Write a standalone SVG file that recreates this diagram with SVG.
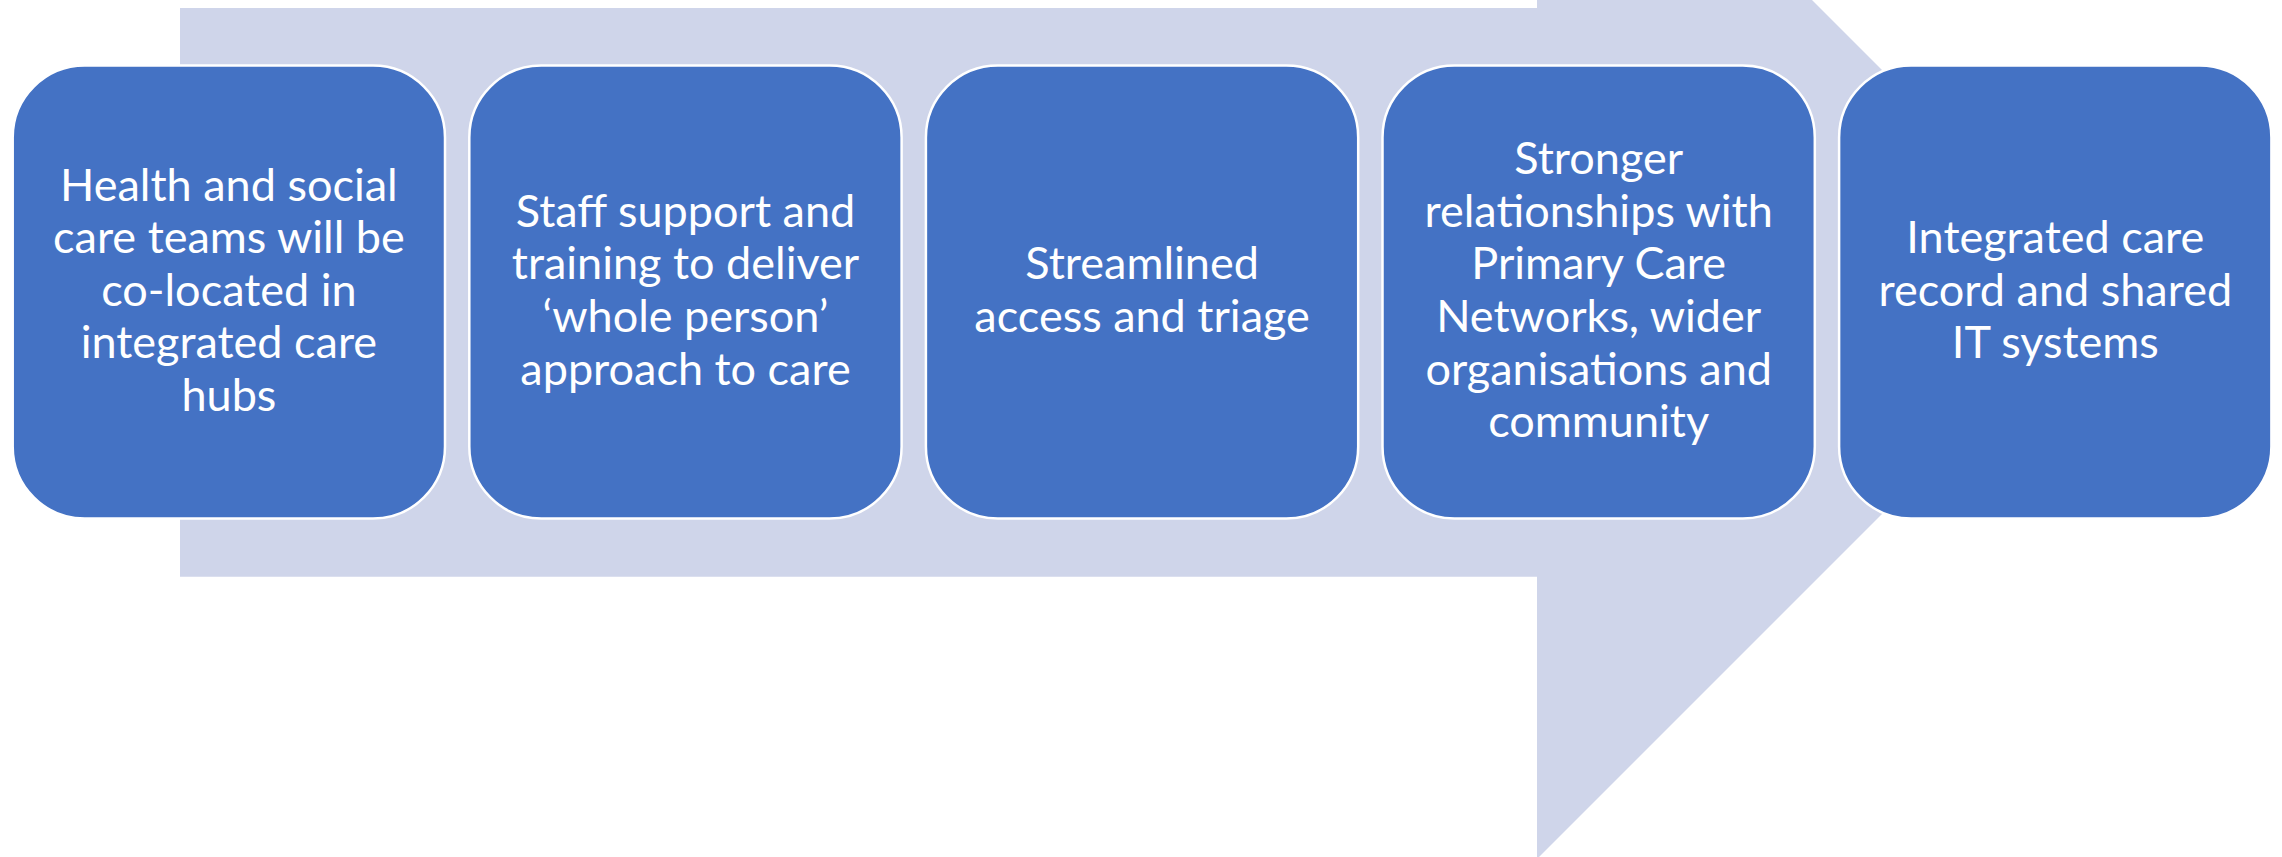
<svg xmlns="http://www.w3.org/2000/svg" width="2282" height="857" viewBox="0 0 2282 857">
<style>
.bg{fill:#CFD5EA;stroke:none}
.box{fill:#4472C4;stroke:#FFFFFF;stroke-width:2.5}
.t{font-family:Lato,"Liberation Sans",sans-serif;font-size:45px;fill:#FFFFFF;text-anchor:middle}
</style>
<rect width="2282" height="857" fill="#FFFFFF"/>
<g id="arrow">
<polygon class="bg" points="180,8 1537,8 1537,-275 2104,292 1537,859 1537,576.7 180,576.7"/>
</g>
<g id="connectors"/>
<g id="node1">
<rect class="box" x="12.7" y="65.5" width="432.3" height="453" rx="72" ry="72"/>
<text class="t"><tspan x="228.9" y="200.5">Health and social</tspan><tspan x="228.9" y="253.1">care teams will be</tspan><tspan x="228.9" y="305.7">co-located in</tspan><tspan x="228.9" y="358.3">integrated care</tspan><tspan x="228.9" y="410.9">hubs</tspan></text>
</g>
<g id="node2">
<rect class="box" x="469.3" y="65.5" width="432.3" height="453" rx="72" ry="72"/>
<text class="t"><tspan x="685.5" y="226.8">Staff support and</tspan><tspan x="685.5" y="279.4">training to deliver</tspan><tspan x="685.5" y="332">‘whole person’</tspan><tspan x="685.5" y="384.6">approach to care</tspan></text>
</g>
<g id="node3">
<rect class="box" x="925.9" y="65.5" width="432.3" height="453" rx="72" ry="72"/>
<text class="t"><tspan x="1142.1" y="279.4">Streamlined</tspan><tspan x="1142.1" y="332">access and triage</tspan></text>
</g>
<g id="node4">
<rect class="box" x="1382.5" y="65.5" width="432.3" height="453" rx="72" ry="72"/>
<text class="t"><tspan x="1598.7" y="174.2">Stronger</tspan><tspan x="1598.7" y="226.8">relationships with</tspan><tspan x="1598.7" y="279.4">Primary Care</tspan><tspan x="1598.7" y="332">Networks, wider</tspan><tspan x="1598.7" y="384.6">organisations and</tspan><tspan x="1598.7" y="437.2">community</tspan></text>
</g>
<g id="node5">
<rect class="box" x="1839.1" y="65.5" width="432.3" height="453" rx="72" ry="72"/>
<text class="t"><tspan x="2055.3" y="253.1">Integrated care</tspan><tspan x="2055.3" y="305.7">record and shared</tspan><tspan x="2055.3" y="358.3">IT systems</tspan></text>
</g>
</svg>
